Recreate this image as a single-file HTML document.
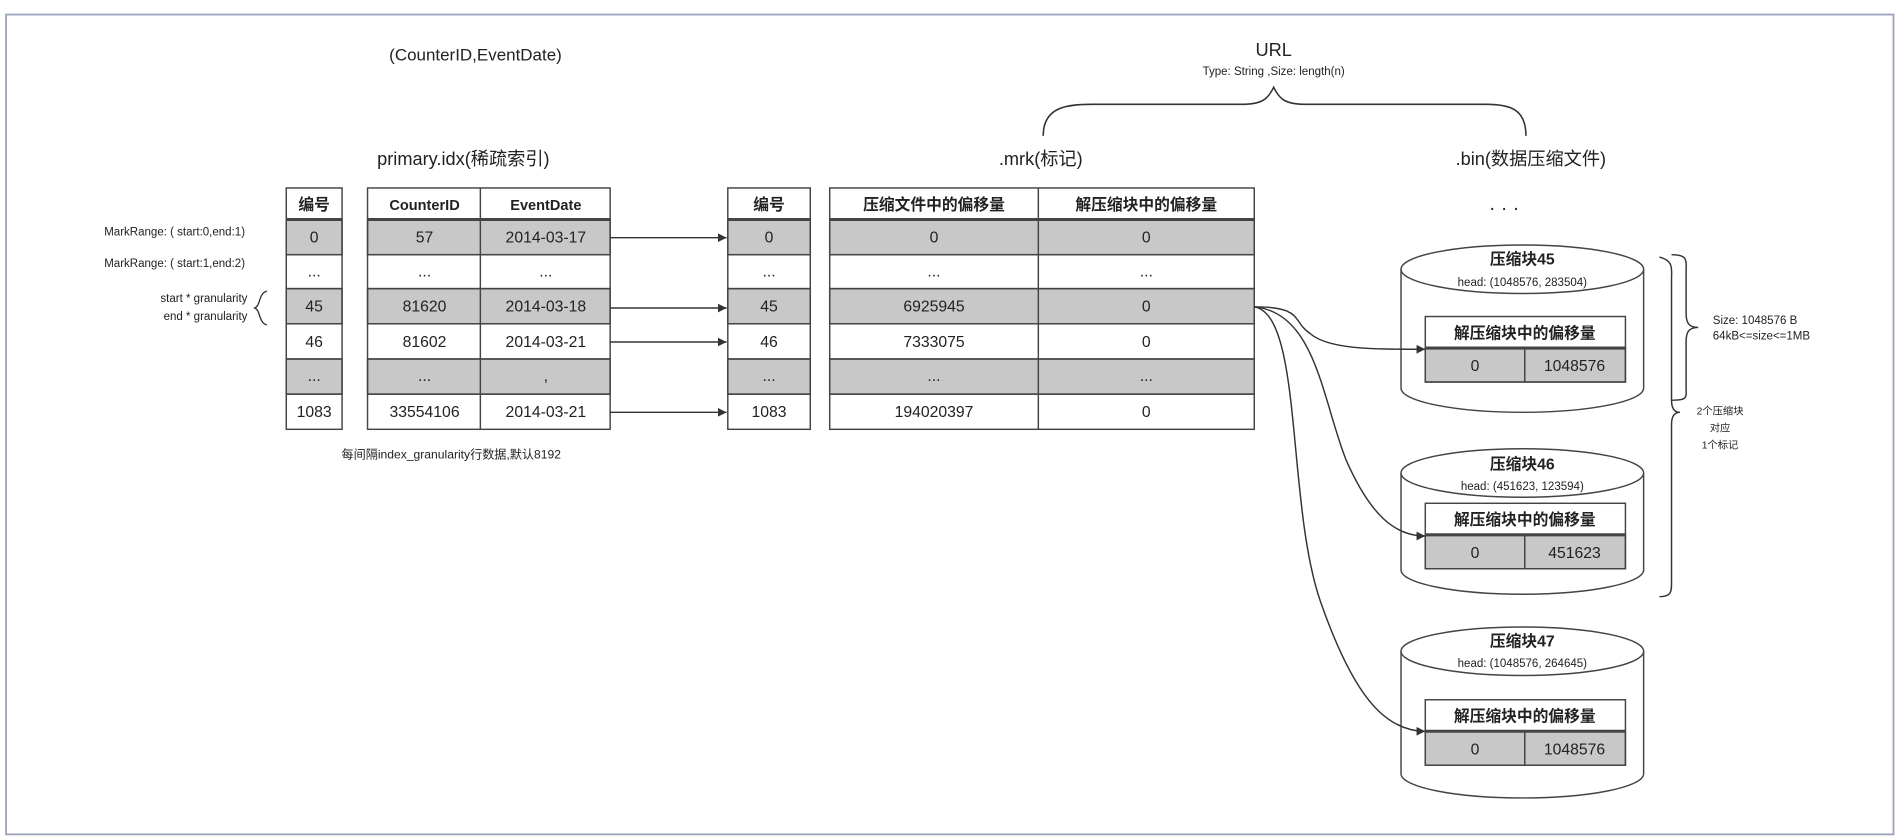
<!DOCTYPE html>
<html><head><meta charset="utf-8"><style>
html,body{margin:0;padding:0;background:#fff;}
svg{display:block;}
text{font-family:"Liberation Sans","Noto Sans CJK SC",sans-serif;fill:#222;}
.b{font-weight:bold;}
</style></head><body>
<svg width="1902" height="838" viewBox="0 0 1568 691" preserveAspectRatio="none" xmlns="http://www.w3.org/2000/svg">
<defs><marker id="ar" markerWidth="8" markerHeight="8" refX="6" refY="3" orient="auto"><path d="M0,0 L6,3 L0,6 z" fill="#333"/></marker></defs>
<rect x="5" y="12" width="1556" height="676" fill="#fff" stroke="#9aa3b8" stroke-width="1.5"/>
<text x="392" y="50" font-size="14" text-anchor="middle">(CounterID,EventDate)</text>
<text x="1050" y="46" font-size="15" text-anchor="middle">URL</text>
<text x="1050" y="62" font-size="9.5" text-anchor="middle">Type: String ,Size: length(n)</text>
<path d="M860,112 C860,88 880,86 900,86 L1025,86 C1042,86 1046,80 1050,72 C1054,80 1058,86 1075,86 L1225,86 C1245,86 1258,90 1258,112" fill="none" stroke="#333" stroke-width="1.3"/>
<text x="382" y="136" font-size="15" text-anchor="middle">primary.idx(稀疏索引)</text>
<text x="858" y="136" font-size="15" text-anchor="middle">.mrk(标记)</text>
<text x="1262" y="136" font-size="15" text-anchor="middle">.bin(数据压缩文件)</text>
<text x="1240" y="177" font-size="16" text-anchor="middle">· · ·</text>
<g stroke="#444" stroke-width="1.2">
<g fill="#c8c8c8">
<rect x="236" y="181" width="46" height="29"/><rect x="236" y="238" width="46" height="29"/><rect x="236" y="296" width="46" height="29"/>
<rect x="303" y="181" width="200" height="29"/><rect x="303" y="238" width="200" height="29"/><rect x="303" y="296" width="200" height="29"/>
<rect x="600" y="181" width="68" height="29"/><rect x="600" y="238" width="68" height="29"/><rect x="600" y="296" width="68" height="29"/>
<rect x="684" y="181" width="350" height="29"/><rect x="684" y="238" width="350" height="29"/><rect x="684" y="296" width="350" height="29"/>
</g>
<g fill="none">
<rect x="236" y="155" width="46" height="199"/><rect x="303" y="155" width="200" height="199"/>
<rect x="600" y="155" width="68" height="199"/><rect x="684" y="155" width="350" height="199"/>
<line x1="396" y1="155" x2="396" y2="354"/><line x1="856" y1="155" x2="856" y2="354"/>
</g>
<g>
<path d="M236,181H282M303,181H503M600,181H668M684,181H1034" stroke-width="2.5"/>
<path d="M236,210H282M236,238H282M236,267H282M236,296H282M236,325H282"/>
<path d="M303,210H503M303,238H503M303,267H503M303,296H503M303,325H503"/>
<path d="M600,210H668M600,238H668M600,267H668M600,296H668M600,325H668"/>
<path d="M684,210H1034M684,238H1034M684,267H1034M684,296H1034M684,325H1034"/>
</g>
</g>
<g font-size="13" text-anchor="middle">
<text x="259" y="173" class="b">编号</text><text x="350" y="173" class="b" font-size="12">CounterID</text><text x="450" y="173" class="b" font-size="12">EventDate</text>
<text x="634" y="173" class="b">编号</text><text x="770" y="173" class="b">压缩文件中的偏移量</text><text x="945" y="173" class="b">解压缩块中的偏移量</text>
<text x="259" y="200">0</text><text x="350" y="200">57</text><text x="450" y="200">2014-03-17</text>
<text x="259" y="228">...</text><text x="350" y="228">...</text><text x="450" y="228">...</text>
<text x="259" y="257">45</text><text x="350" y="257">81620</text><text x="450" y="257">2014-03-18</text>
<text x="259" y="286">46</text><text x="350" y="286">81602</text><text x="450" y="286">2014-03-21</text>
<text x="259" y="314">...</text><text x="350" y="314">...</text><text x="450" y="314">,</text>
<text x="259" y="344">1083</text><text x="350" y="344">33554106</text><text x="450" y="344">2014-03-21</text>
<text x="634" y="200">0</text><text x="770" y="200">0</text><text x="945" y="200">0</text>
<text x="634" y="228">...</text><text x="770" y="228">...</text><text x="945" y="228">...</text>
<text x="634" y="257">45</text><text x="770" y="257">6925945</text><text x="945" y="257">0</text>
<text x="634" y="286">46</text><text x="770" y="286">7333075</text><text x="945" y="286">0</text>
<text x="634" y="314">...</text><text x="770" y="314">...</text><text x="945" y="314">...</text>
<text x="634" y="344">1083</text><text x="770" y="344">194020397</text><text x="945" y="344">0</text>
</g>
<g stroke="#333" stroke-width="1.2" marker-end="url(#ar)">
<line x1="503" y1="196" x2="599" y2="196"/><line x1="503" y1="254" x2="599" y2="254"/>
<line x1="503" y1="282" x2="599" y2="282"/><line x1="503" y1="340" x2="599" y2="340"/>
</g>
<g font-size="9.5" text-anchor="end">
<text x="202" y="194">MarkRange: ( start:0,end:1)</text>
<text x="202" y="220">MarkRange: ( start:1,end:2)</text>
<text x="204" y="249">start * granularity</text>
<text x="204" y="264">end  * granularity</text>
</g>
<path d="M220,240 C213,242 215,252 210,254 C215,256 213,266 220,268" fill="none" stroke="#333" stroke-width="1.1"/>
<text x="372" y="378" font-size="10" text-anchor="middle">每间隔index_granularity行数据,默认8192</text>
<path d="M1155,222 V320 A100,20 0 0 0 1355,320 V222" fill="#fff" stroke="#444" stroke-width="1.2"/>
<ellipse cx="1255" cy="222" rx="100" ry="20" fill="#fff" stroke="#444" stroke-width="1.2"/>
<path d="M1155,390 V470 A100,20 0 0 0 1355,470 V390" fill="#fff" stroke="#444" stroke-width="1.2"/>
<ellipse cx="1255" cy="390" rx="100" ry="20" fill="#fff" stroke="#444" stroke-width="1.2"/>
<path d="M1155,537 V638 A100,20 0 0 0 1355,638 V537" fill="#fff" stroke="#444" stroke-width="1.2"/>
<ellipse cx="1255" cy="537" rx="100" ry="20" fill="#fff" stroke="#444" stroke-width="1.2"/>
<g text-anchor="middle">
<text x="1255" y="218" font-size="13" class="b">压缩块45</text><text x="1255" y="236" font-size="9.5">head: (1048576, 283504)</text>
<text x="1255" y="387" font-size="13" class="b">压缩块46</text><text x="1255" y="404" font-size="9.5">head: (451623, 123594)</text>
<text x="1255" y="533" font-size="13" class="b">压缩块47</text><text x="1255" y="550" font-size="9.5">head: (1048576, 264645)</text>
</g>
<g stroke="#444" stroke-width="1.2">
<rect x="1175" y="287" width="165" height="28" fill="#c8c8c8"/><rect x="1175" y="261" width="165" height="54" fill="none"/><line x1="1257" y1="287" x2="1257" y2="315"/><line x1="1175" y1="287" x2="1340" y2="287" stroke-width="2.5"/>
<rect x="1175" y="441" width="165" height="28" fill="#c8c8c8"/><rect x="1175" y="415" width="165" height="54" fill="none"/><line x1="1257" y1="441" x2="1257" y2="469"/><line x1="1175" y1="441" x2="1340" y2="441" stroke-width="2.5"/>
<rect x="1175" y="603" width="165" height="28" fill="#c8c8c8"/><rect x="1175" y="577" width="165" height="54" fill="none"/><line x1="1257" y1="603" x2="1257" y2="631"/><line x1="1175" y1="603" x2="1340" y2="603" stroke-width="2.5"/>
</g>
<g text-anchor="middle" font-size="13">
<text x="1257" y="279" class="b">解压缩块中的偏移量</text><text x="1216" y="306">0</text><text x="1298" y="306">1048576</text>
<text x="1257" y="433" class="b">解压缩块中的偏移量</text><text x="1216" y="460">0</text><text x="1298" y="460">451623</text>
<text x="1257" y="595" class="b">解压缩块中的偏移量</text><text x="1216" y="622">0</text><text x="1298" y="622">1048576</text>
</g>
<g fill="none" stroke="#333" stroke-width="1.2" marker-end="url(#ar)">
<path d="M1034,253 C1075,253 1065,265 1080,275 C1095,288 1130,288 1175,288"/>
<path d="M1034,253 C1085,258 1090,330 1110,380 C1130,425 1150,442 1175,442"/>
<path d="M1034,253 C1075,260 1060,420 1090,500 C1115,570 1140,603 1175,603"/>
</g>
<g fill="none" stroke="#333" stroke-width="1.2">
<path d="M1378,210 C1392,210 1390,215 1390,225 L1390,258 C1390,266 1392,270 1400,270 C1392,270 1390,274 1390,282 L1390,318 C1390,328 1392,330 1378,330"/>
<path d="M1368,212 C1380,215 1378,222 1378,230 L1378,330 C1378,336 1380,340 1385,340 C1380,340 1378,344 1378,350 L1378,480 C1378,488 1378,492 1368,492"/>
</g>
<text x="1412" y="267" font-size="9.5">Size: 1048576 B</text>
<text x="1412" y="280" font-size="9.5">64kB&lt;=size&lt;=1MB</text>
<g font-size="8.5" text-anchor="middle"><text x="1418" y="342">2个压缩块</text><text x="1418" y="356">对应</text><text x="1418" y="370">1个标记</text></g>
</svg>
</body></html>
